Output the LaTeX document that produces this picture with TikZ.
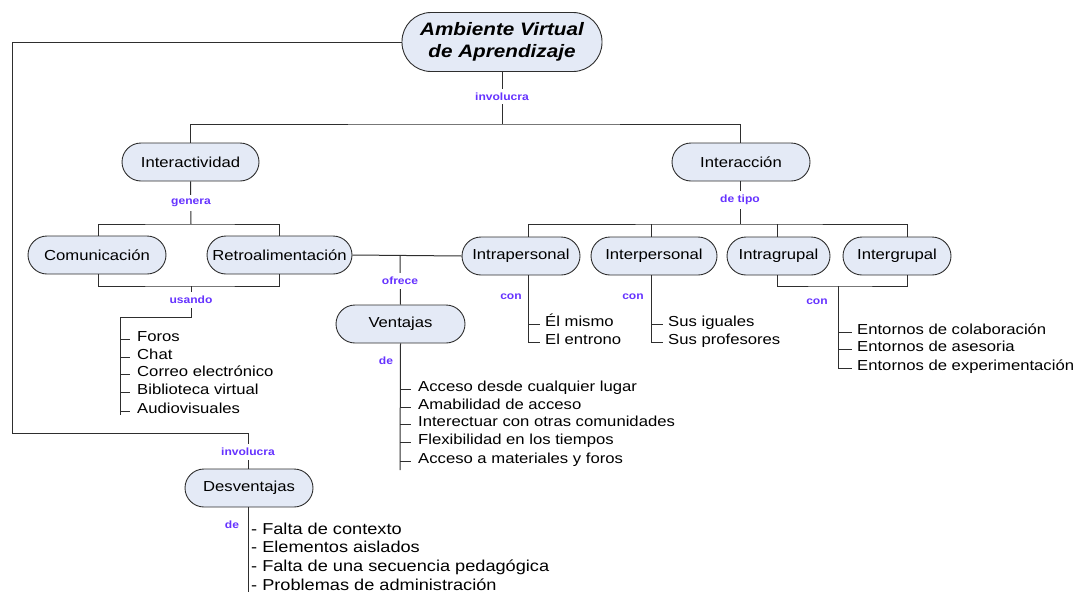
\documentclass[tikz,border=0pt]{standalone}
\usepackage{fontspec}
\setmainfont{Liberation Sans}[FakeStretch=1.15]
\definecolor{linegray}{HTML}{2E2E2E}
\definecolor{conceptfill}{HTML}{E4EAF6}
\definecolor{lblblue}{HTML}{6633FF}
\begin{document}
\begin{tikzpicture}[x=1pt,y=-1pt,
  conn/.style={draw=linegray, line width=1pt},
  concept/.style={draw=linegray, line width=0.9pt, fill=conceptfill,
    rounded corners=19pt, minimum height=38pt, inner sep=0pt,
    font=\fontsize{14.5}{17}\selectfont, text=black},
  lbl/.style={font=\bfseries\fontsize{10.5}{12}\selectfont, text=lblblue, inner sep=1pt},
  lblon/.style={lbl, fill=white, inner xsep=2pt, inner ysep=4pt},
  item/.style={anchor=west, inner sep=0pt, font=\fontsize{14.5}{17}\selectfont,
    text height=0.72em, text depth=0.2em, yshift=-3pt},
  bigitem/.style={item, font=\fontsize{15.8}{18}\selectfont},
]
\useasboundingbox (0,0) rectangle (1074,592);

% concepts
\node[concept, minimum width=200pt, minimum height=59pt, rounded corners=29pt,
  align=center, font=\bfseries\itshape\fontsize{18}{22}\selectfont]
  (avu) at (502,42) {Ambiente Virtual\\de Aprendizaje};
\node[concept, minimum width=137pt] (ia) at (190.5,162) {Interactividad};
\node[concept, minimum width=138pt] (ic) at (741,162) {Interacción};
\node[concept, minimum width=138pt] (com) at (97,255) {Comunicación};
\node[concept, minimum width=145pt] (ret) at (279.5,255) {Retroalimentación};
\node[concept, minimum width=118pt] (intra) at (521,256) {Intrapersonal};
\node[concept, minimum width=126pt] (inter) at (654,256) {Interpersonal};
\node[concept, minimum width=103pt] (intrag) at (778.5,256) {Intragrupal};
\node[concept, minimum width=108pt] (interg) at (897,256) {Intergrupal};
\node[concept, minimum width=129pt] (vent) at (400.5,324) {Ventajas};
\node[concept, minimum width=128pt] (desv) at (249,488) {Desventajas};

% junction points
\coordinate (bar1) at (502,124);
\coordinate (bar2) at (191,224);
\coordinate (bar3) at (191,286);
\coordinate (usc) at (191,317);
\coordinate (usend) at (120,415);
\coordinate (vj) at (400,256);
\coordinate (ventend) at (400,470);
\coordinate (bar4) at (740,224);
\coordinate (intraend) at (528,343);
\coordinate (interend) at (651,343);
\coordinate (brk) at (838,286);
\coordinate (entend) at (838,369);
\coordinate (loopc) at (12,433);
\coordinate (desend) at (248,592);

% connectors
\draw[conn] (avu.south) -- (bar1);
\draw[conn] (ia.north) |- (bar1) -| ([xshift=-1pt]ic.north);
\draw[conn] (avu.west) -| (loopc) -| ([xshift=-1pt]desv.north);
\draw[conn] (ia.south) -- (bar2);
\draw[conn] ([xshift=1pt]com.north) |- (bar2) -| (ret.north);
\draw[conn] ([xshift=1pt]com.south) |- (bar3) -| (ret.south);
\draw[conn] (bar3) -- (usc) -| (usend);
\draw[conn] (ret.east) -- (intra.west);
\draw[conn] (vj) -- (vent.north);
\draw[conn] (vent.south) -- (ventend);
\draw[conn] ([xshift=-1pt]ic.south) -- (bar4);
\draw[conn] ([xshift=7pt]intra.north) |- (bar4) -| ([xshift=10pt]interg.north);
\draw[conn] ([xshift=-3pt]inter.north) -- ([xshift=-3pt]inter.north |- bar4);
\draw[conn] ([xshift=-1.5pt]intrag.north) -- ([xshift=-1.5pt]intrag.north |- bar4);
\draw[conn] ([xshift=7pt]intra.south) -- (intraend);
\draw[conn] ([xshift=-3pt]inter.south) -- (interend);
\draw[conn] ([xshift=-1.5pt]intrag.south) |- (brk) -| ([xshift=10pt]interg.south);
\draw[conn] (brk) -- (entend);
\draw[conn] ([xshift=-1pt]desv.south) -- (desend);

% linking words
\node[lblon] (l1) at (502,96.5) {involucra};
\node[lblon] (l2) at (191,203) {genera};
\node[lblon] (l3) at (740,200) {de tipo};
\node[lblon] (l4) at (191,300) {usando};
\node[lblon] (l5) at (400,281) {ofrece};
\node[lblon] (l6) at (248,452) {involucra};
\node[lbl] (l7) at (386,361) {de};
\node[lbl] (l8) at (511,297) {con};
\node[lbl] (l9) at (633,297) {con};
\node[lbl] (l10) at (817,302) {con};
\node[lbl] (l11) at (232,525) {de};

% tools for communication
\node[item] (u1) at (137,336) {Foros};
\node[item] (u2) at (137,354) {Chat};
\node[item] (u3) at (137,371) {Correo electrónico};
\node[item] (u4) at (137,389) {Biblioteca virtual};
\node[item] (u5) at (137,408) {Audiovisuales};
\foreach \n in {u1,u2,u3,u4,u5}
  \draw[conn] ([xshift=-17pt]\n.west) -- ([xshift=-7pt]\n.west);

% advantages
\node[item] (v1) at (418,386) {Acceso desde cualquier lugar};
\node[item] (v2) at (418,404) {Amabilidad de acceso};
\node[item] (v3) at (418,421) {Interectuar con otras comunidades};
\node[item] (v4) at (418,439) {Flexibilidad en los tiempos};
\node[item] (v5) at (418,458) {Acceso a materiales y foros};
\foreach \n in {v1,v2,v3,v4,v5}
  \draw[conn] ([xshift=-18pt]\n.west) -- ([xshift=-7pt]\n.west);

% intrapersonal / interpersonal
\node[item] (a1) at (545,321) {Él mismo};
\node[item] (a2) at (545,339) {El entrono};
\node[item] (b1) at (668,321) {Sus iguales};
\node[item] (b2) at (668,339) {Sus profesores};
\foreach \n in {a1,a2,b1,b2}
  \draw[conn] ([xshift=-17pt]\n.west) -- ([xshift=-5pt]\n.west);

% group environments
\node[item] (e1) at (857,329) {Entornos de colaboración};
\node[item] (e2) at (857,346) {Entornos de asesoria};
\node[item] (e3) at (857,365) {Entornos de experimentación};
\foreach \n in {e1,e2,e3}
  \draw[conn] ([xshift=-19pt]\n.west) -- ([xshift=-5pt]\n.west);

% disadvantages
\node[bigitem] (d1) at (251,529) {- Falta de contexto};
\node[bigitem] (d2) at (251,547) {- Elementos aislados};
\node[bigitem] (d3) at (251,566) {- Falta de una secuencia pedagógica};
\node[bigitem] (d4) at (251,585) {- Problemas de administración};
\end{tikzpicture}
\end{document}
